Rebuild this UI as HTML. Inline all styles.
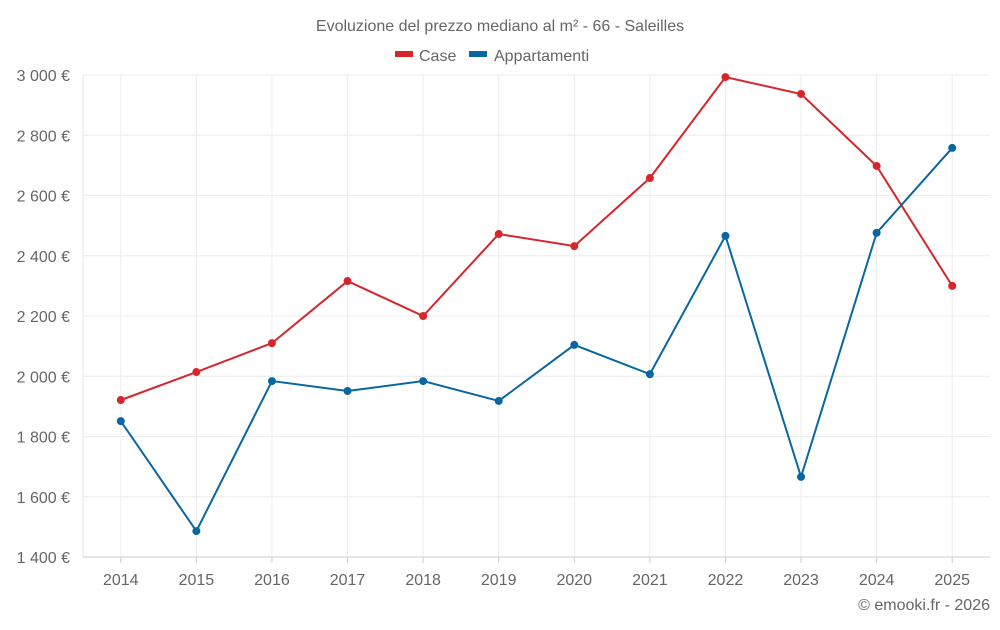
<!DOCTYPE html>
<html><head><meta charset="utf-8"><style>
body{margin:0;background:#fff;}
svg{font-family:"Liberation Sans",sans-serif;}
</style></head><body>
<svg id="chart" width="1000" height="625">
<text x="500" y="31" text-anchor="middle" font-size="16" fill="#666">Evoluzione del prezzo mediano al m² - 66 - Saleilles</text>
<g>
<g><rect x="395" y="51" width="18" height="6" fill="#d7262b"/><text x="419" y="61" font-size="16" fill="#666">Case</text></g>
<g><rect x="469" y="51" width="18" height="6" fill="#0867a0"/><text x="494" y="61" font-size="16" fill="#666">Appartamenti</text></g>
</g>
<g id="grid"></g><g id="axes"></g><g id="series"></g>
<text x="990" y="610" text-anchor="end" font-size="16" fill="#666">© emooki.fr - 2026</text>
</svg>
<script>
const years=["2014","2015","2016","2017","2018","2019","2020","2021","2022","2023","2024","2025"];
const caseVals=[1921,2014,2110,2316,2200,2472,2432,2658,2993,2937,2698,2300];
const apptVals=[1851,1486,1984,1951,1984,1918,2104,2007,2466,1666,2476,2758];
const yTicks=[1400,1600,1800,2000,2200,2400,2600,2800,3000];
const yTickLabels=["1 400 €","1 600 €","1 800 €","2 000 €","2 200 €","2 400 €","2 600 €","2 800 €","3 000 €"];
const X0=83,X1=990,Y0=557,Y1=75,ymin=1400,ymax=3000;
const ns="http://www.w3.org/2000/svg";
const band=(X1-X0)/years.length;
const xs=i=>X0+band*(i+0.5);
const ys=v=>Y0-(v-ymin)/(ymax-ymin)*(Y0-Y1);
function mk(t,a,p){const e=document.createElementNS(ns,t);for(const k in a)e.setAttribute(k,a[k]);p.appendChild(e);return e;}
const grid=document.getElementById('grid'),axes=document.getElementById('axes'),ser=document.getElementById('series');
yTicks.forEach((v,i)=>{
 const l=mk('line',{x1:X0,x2:X1,y1:ys(v),y2:ys(v),stroke:i==0?'#ccc':'#ececec'},grid);
 
 
 const t=mk('text',{x:70,y:ys(v)+6,'text-anchor':'end','font-size':16,fill:'#666'},axes);
 t.textContent=yTickLabels[i];
 
 
});
const la=mk('line',{x1:X0,x2:X0,y1:Y1,y2:Y0,stroke:'#e6e6e6'},grid);


years.forEach((y,i)=>{
 const g=mk('line',{x1:xs(i),x2:xs(i),y1:Y1,y2:Y0,stroke:'#ececec'},grid);
 
 
 const tk=mk('line',{x1:xs(i),x2:xs(i),y1:Y0,y2:Y0+6,stroke:'#ccc'},axes);
 
 
 const t=mk('text',{x:xs(i),y:585,'text-anchor':'middle','font-size':16,fill:'#666'},axes);
 t.textContent=y;
 
 
});
function draw(vals,color,name){
 const p=mk('polyline',{points:vals.map((v,i)=>xs(i)+','+ys(v)).join(' '),fill:'none',stroke:color,'stroke-width':2},ser);
 
 
 vals.forEach((v,i)=>{
  const c=mk('circle',{cx:xs(i),cy:ys(v),r:4,fill:color},ser);
  
  
 });
}
draw(caseVals,'#d7262b','case');
draw(apptVals,'#0867a0','appartamenti');
</script>
</body></html>
